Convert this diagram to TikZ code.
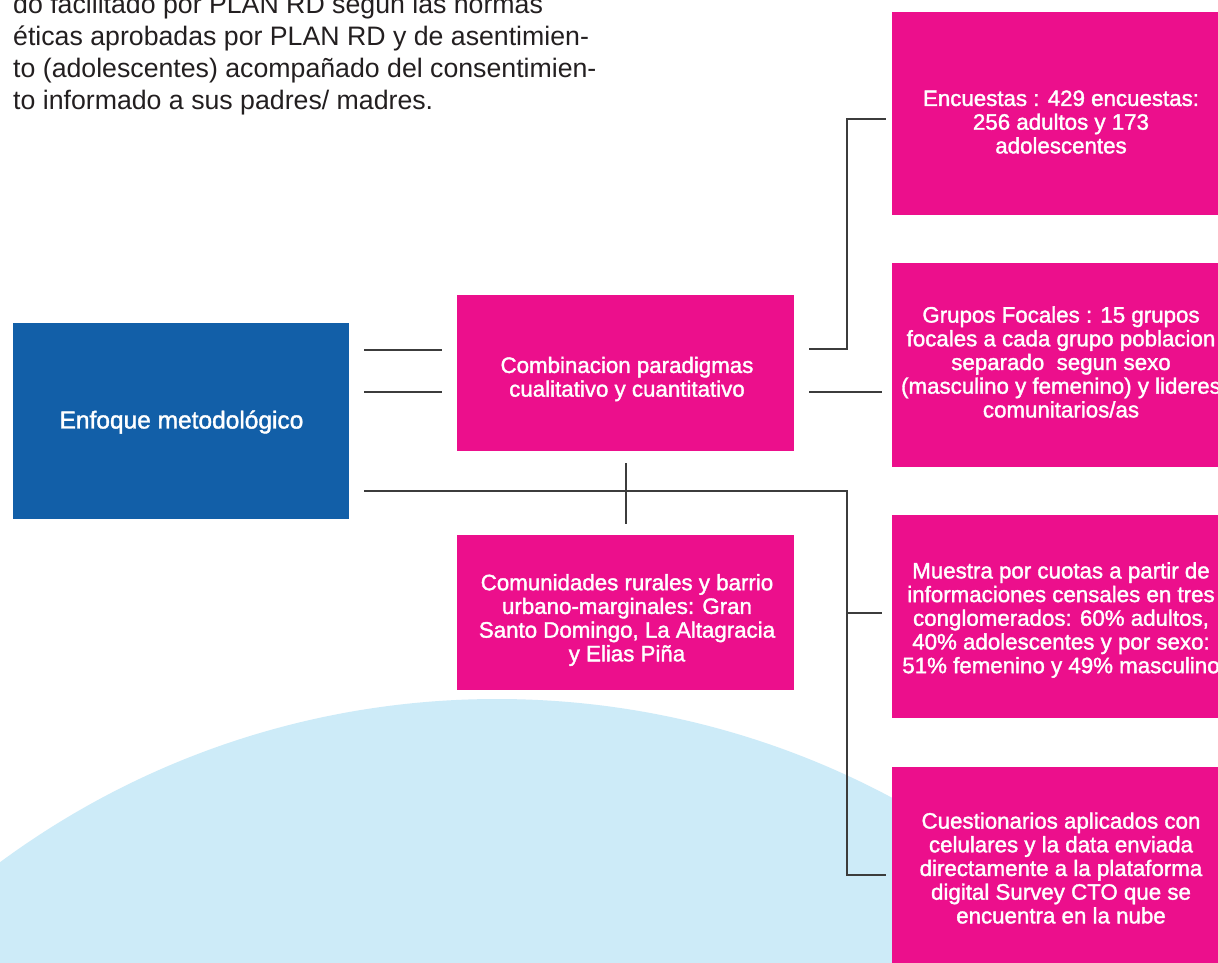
\documentclass[tikz,border=0pt]{standalone}
\usepackage{fontspec}
\setmainfont{Liberation Sans}
\newfontfamily\boxfont{Liberation Sans}[FakeBold=1.6]
\definecolor{pinkc}{HTML}{EC0F8C}
\definecolor{bluec}{HTML}{125FA8}
\definecolor{skyc}{HTML}{CDEBF8}
\definecolor{inkc}{HTML}{231F20}
\definecolor{linec}{HTML}{3C3C3C}
\tikzset{
  pinkbox/.style={fill=pinkc, draw=none, inner sep=0pt, minimum width=338pt},
  bluebox/.style={fill=bluec, draw=none, inner sep=0pt},
  boxtext/.style={text=white, align=center, inner sep=0pt, font=\boxfont\fontsize{22.3}{23.7}\selectfont},
  conn/.style={draw=linec, line width=1.2pt},
}
\begin{document}
\begin{tikzpicture}[x=1pt,y=-1pt]
\useasboundingbox (0,0) rectangle (1218,962);
\clip (0,0) rectangle (1218,962);
\fill[white] (0,0) rectangle (1218,962);
% light blue circle
\fill[skyc] (497,1537) circle[radius=838];
% intro text
\node[anchor=north west, align=left, inner sep=0pt, text=inkc,
      font=\fontsize{26.7}{32}\selectfont] (intro) at (13,-6.5)
  {do facilitado por PLAN RD segun las normas\\
   éticas aprobadas por PLAN RD y de asentimien-\\
   to (adolescentes) acompañado del consentimien-\\
   to informado a sus padres/ madres.};
% boxes
\node[bluebox, minimum width=336pt, minimum height=196pt] (enfoque) at (181,421) {};
\node[text=white, inner sep=0pt, font=\boxfont\fontsize{24.5}{26}\selectfont] (enfoquet) at (181.5,422) {Enfoque metodológico};
\node[pinkbox, minimum width=337pt, minimum height=156pt] (comb) at (625.5,373) {};
\node[boxtext] (combt) at (627,379) {Combinacion paradigmas\\cualitativo y cuantitativo};
\node[pinkbox, minimum width=337pt, minimum height=155pt] (comu) at (625.5,612.5) {};
\node[boxtext] (comut) at (627,620) {Comunidades rurales y barrio\\urbano-marginales: Gran\\Santo Domingo, La Altagracia\\y Elias Piña};
\node[pinkbox, minimum height=203pt] (enc) at (1061,113.5) {};
\node[boxtext] (enct) at (1061,122) {Encuestas : 429 encuestas:\\256 adultos y 173\\adolescentes};
\node[pinkbox, minimum height=204pt] (gru) at (1061,365) {};
\node[boxtext] (grut) at (1061,362) {Grupos Focales : 15 grupos\\focales a cada grupo poblacion\\separado \ segun sexo\\(masculino y femenino) y lideres\\comunitarios/as};
\node[pinkbox, minimum height=203pt] (mue) at (1061,616.5) {};
\node[boxtext] (muet) at (1061,620) {Muestra por cuotas a partir de\\informaciones censales en tres\\conglomerados: 60\% adultos,\\40\% adolescentes y por sexo:\\51\% femenino y 49\% masculino};
\node[pinkbox, minimum height=203pt] (cue) at (1061,868) {};
\node[boxtext] (cuet) at (1061,868) {Cuestionarios aplicados con\\celulares y la data enviada\\directamente a la plataforma\\digital Survey CTO que se\\encuentra en la nube};
% connector end points
\coordinate (a1) at (364,350); \coordinate (a2) at (442,350);
\coordinate (b1) at (364,392); \coordinate (b2) at (442,392);
\coordinate (c1) at (364,491); \coordinate (c2) at (847,491);
\coordinate (c3) at (847,875); \coordinate (c4) at (886,875);
\coordinate (d1) at (847,613); \coordinate (d2) at (882,613);
\coordinate (e1) at (626,463); \coordinate (e2) at (626,524);
\coordinate (f1) at (809,349); \coordinate (f2) at (847,349);
\coordinate (f3) at (847,119); \coordinate (f4) at (886,119);
\coordinate (g1) at (809,392); \coordinate (g2) at (882,392);
% connectors
\draw[conn] (a1) -- (a2);
\draw[conn] (b1) -- (b2);
\draw[conn] (c1) -- (c2) -- (c3) -- (c4);
\draw[conn] (d1) -- (d2);
\draw[conn] (e1) -- (e2);
\draw[conn] (f1) -- (f2) -- (f3) -- (f4);
\draw[conn] (g1) -- (g2);
\end{tikzpicture}
\end{document}
